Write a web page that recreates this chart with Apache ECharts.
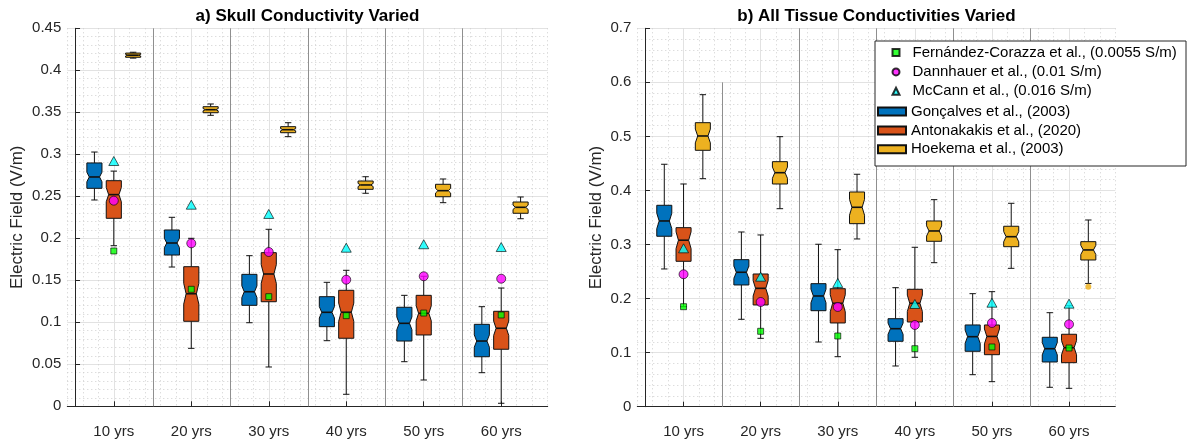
<!DOCTYPE html>
<html><head><meta charset="utf-8">
<script src="https://cdn.jsdelivr.net/npm/echarts@6/dist/echarts.min.js"></script>
<style>html,body{margin:0;padding:0;background:#fff}#c{width:1192px;height:441px}</style>
</head><body><div id="c"></div>
<script>
// ---------------- DATA ----------------
const ages = ['10 yrs', '20 yrs', '30 yrs', '40 yrs', '50 yrs', '60 yrs'];
const titleA = 'a) Skull Conductivity Varied';
const titleB = 'b) All Tissue Conductivities Varied';
const yName = 'Electric Field (V/m)';
const nameFern = 'Fernández-Corazza et al., (0.0055 S/m)';
const nameDann = 'Dannhauer et al., (0.01 S/m)';
const nameMcC = 'McCann et al., (0.016 S/m)';
const nameGon = 'Gonçalves et al., (2003)';
const nameAnt = 'Antonakakis et al., (2020)';
const nameHoe = 'Hoekema et al., (2003)';

// box stats: [lower whisker, q1, median, q3, upper whisker]
const skullGoncalves = [
  [0.2456, 0.2595, 0.2730, 0.2897, 0.3027],
  [0.1658, 0.1801, 0.1944, 0.2099, 0.2250],
  [0.0995, 0.1202, 0.1364, 0.1571, 0.1793],
  [0.0781, 0.0948, 0.1119, 0.1305, 0.1476],
  [0.0531, 0.0777, 0.0988, 0.1179, 0.1321],
  [0.0400, 0.0590, 0.0777, 0.0976, 0.1186]
];
const skullAntonakakis = [
  [0.1912, 0.2238, 0.2520, 0.2686, 0.2800],
  [0.0690, 0.1012, 0.1340, 0.1662, 0.2000],
  [0.0468, 0.1245, 0.1575, 0.1829, 0.2107],
  [0.0143, 0.0810, 0.1120, 0.1381, 0.1619],
  [0.0313, 0.0849, 0.1107, 0.1321, 0.1548],
  [0.0036, 0.0679, 0.0929, 0.1131, 0.1408]
];
const skullHoekema = [
  [0.4145, 0.4155, 0.4180, 0.4205, 0.4215],
  [0.3464, 0.3495, 0.3531, 0.3567, 0.3599],
  [0.3210, 0.3257, 0.3293, 0.3329, 0.3376],
  [0.2536, 0.2583, 0.2635, 0.2682, 0.2733],
  [0.2424, 0.2495, 0.2567, 0.2643, 0.2706],
  [0.2233, 0.2298, 0.2369, 0.2432, 0.2492]
];
const skullFernandez = [0.1849, 0.1393, 0.1305, 0.1079, 0.1110, 0.1087];
const skullDannhauer = [0.2448, 0.1940, 0.1837, 0.1507, 0.1548, 0.1519];
const skullMcCann    = [0.2920, 0.2400, 0.2290, 0.1888, 0.1929, 0.1896];

const allGoncalves = [
  [0.2548, 0.3153, 0.3436, 0.3726, 0.4485],
  [0.1617, 0.2252, 0.2487, 0.2720, 0.3232],
  [0.1197, 0.1776, 0.2048, 0.2276, 0.3005],
  [0.0753, 0.1210, 0.1443, 0.1628, 0.2202],
  [0.0592, 0.1025, 0.1295, 0.1512, 0.2091],
  [0.0359, 0.0827, 0.1073, 0.1284, 0.1739]
];
const allAntonakakis = [
  [0.1850, 0.2690, 0.3080, 0.3312, 0.4120],
  [0.1265, 0.1882, 0.2190, 0.2455, 0.3177],
  [0.0925, 0.1549, 0.1913, 0.2183, 0.2905],
  [0.0914, 0.1567, 0.1913, 0.2172, 0.2949],
  [0.0463, 0.0962, 0.1300, 0.1512, 0.2128],
  [0.0340, 0.0814, 0.1092, 0.1340, 0.1869]
];
const allHoekema = [
  [0.4218, 0.4743, 0.5008, 0.5254, 0.5772],
  [0.3663, 0.4120, 0.4329, 0.4533, 0.4995],
  [0.3103, 0.3386, 0.3689, 0.3972, 0.4300],
  [0.2664, 0.3060, 0.3251, 0.3436, 0.3830],
  [0.2560, 0.2960, 0.3145, 0.3338, 0.3763],
  [0.2280, 0.2714, 0.2900, 0.3053, 0.3454]
];
const allHoekemaOutliers = [[5, 0.222]]; // [age index, value]
const allFernandez = [0.1850, 0.1395, 0.1308, 0.1073, 0.1105, 0.1086];
const allDannhauer = [0.2450, 0.1937, 0.1845, 0.1512, 0.1549, 0.1524];
const allMcCann    = [0.2930, 0.2405, 0.2289, 0.1900, 0.1924, 0.1906];

// separator line tops (between age groups)
const sepTopsA = [0.45, 0.45, 0.45, 0.45, 0.45];
const sepTopsB = [0.6, 0.7, 0.7, 0.7, 0.7];

// ---------------- STYLE / LAYOUT ----------------
const C_BLUE = '#0072BD', C_ORANGE = '#D95319', C_YELLOW = '#EDB120';
const FONT = '"Liberation Sans", Arial, Helvetica, sans-serif';
const TXT = '#262626';
const BOX_W = 0.78;
const GROUP = 4;             // x units per age group
const XMIN = -0.4, XMAX = 24.4;

const groupCenter = i => 2 + GROUP * i;
const tickVals = ages.map((a, i) => groupCenter(i));

function boxData(stats, offset) {
  return stats.map((s, i) => [groupCenter(i) + offset].concat(s));
}
function markData(vals) {
  return vals.map((v, i) => [groupCenter(i), v]);
}
function sepData(tops) {
  return tops.map((t, i) => [groupCenter(i) + GROUP / 2, t]);
}

function makeBoxRender(notchK) {
  return function (params, api) {
    const x = api.value(0);
    const lo = api.value(1), q1 = api.value(2), med = api.value(3), q3 = api.value(4), hi = api.value(5);
    const cx = api.coord([x, med])[0];
    const yLo = api.coord([x, lo])[1], yQ1 = api.coord([x, q1])[1], yM = api.coord([x, med])[1];
    const yQ3 = api.coord([x, q3])[1], yHi = api.coord([x, hi])[1];
    const iqr = q3 - q1;
    const yNt = api.coord([x, Math.min(med + notchK * iqr, q3)])[1];
    const yNb = api.coord([x, Math.max(med - notchK * iqr, q1)])[1];
    const w = api.size([BOX_W, 0])[0];
    const L = cx - w / 2, R = cx + w / 2, ind = w * 0.16;
    const cap = 3.2;
    const ls = { stroke: '#111', lineWidth: 1 };
    return {
      type: 'group',
      children: [
        { type: 'line', shape: { x1: cx, y1: yQ3, x2: cx, y2: yHi }, style: ls },
        { type: 'line', shape: { x1: cx - cap, y1: yHi, x2: cx + cap, y2: yHi }, style: ls },
        { type: 'line', shape: { x1: cx, y1: yQ1, x2: cx, y2: yLo }, style: ls },
        { type: 'line', shape: { x1: cx - cap, y1: yLo, x2: cx + cap, y2: yLo }, style: ls },
        { type: 'polygon', shape: { points: [[L, yQ3], [R, yQ3], [R, yNt], [R - ind, yM], [R, yNb], [R, yQ1], [L, yQ1], [L, yNb], [L + ind, yM], [L, yNt]] },
          style: { fill: api.visual('color'), stroke: '#111', lineWidth: 1, lineJoin: 'round' } },
        { type: 'line', shape: { x1: L + ind, y1: yM, x2: R - ind, y2: yM }, style: { stroke: '#111', lineWidth: 1.6 } }
      ]
    };
  };
}
function sepRender(params, api) {
  const p0 = api.coord([api.value(0), 0]);
  const p1 = api.coord([api.value(0), api.value(1)]);
  const x = Math.round(p0[0]) + 0.5;
  return { type: 'line', shape: { x1: x, y1: p0[1], x2: x, y2: p1[1] }, style: { stroke: '#8f8f8f', lineWidth: 1 } };
}

function xAxesFor(gi) {
  return [
    { gridIndex: gi, type: 'value', position: 'bottom', min: XMIN, max: XMAX, interval: 0.8,
      axisLine: { show: false }, axisTick: { show: false }, axisLabel: { show: false },
      splitLine: { show: true, lineStyle: { color: '#cfcfcf', type: [1, 3], width: 1 } } },
    { gridIndex: gi, type: 'value', position: 'bottom', min: XMIN, max: XMAX,
      axisLine: { show: true, lineStyle: { color: TXT, width: 1 } },
      axisTick: { show: true, inside: true, length: 5, customValues: tickVals, lineStyle: { color: TXT } },
      axisLabel: { show: true, customValues: tickVals, margin: 18, fontSize: 15, color: TXT, fontFamily: FONT,
        formatter: v => ages[Math.round((v - 2) / GROUP)] },
      splitLine: { show: true, lineStyle: { color: '#e2e2e2', width: 1 } } }
  ];
}
function yAxisFor(gi, max, interval, gap) {
  return { gridIndex: gi, type: 'value', position: 'left', min: 0, max: max, interval: interval,
    name: yName, nameLocation: 'middle', nameGap: gap,
    nameTextStyle: { fontSize: 17, color: TXT, fontFamily: FONT },
    axisLine: { show: true, lineStyle: { color: TXT, width: 1 } },
    axisTick: { show: true, inside: true, length: 5, lineStyle: { color: TXT } },
    axisLabel: { fontSize: 15, color: TXT, fontFamily: FONT, margin: 6 },
    splitLine: { show: true, lineStyle: { color: '#e2e2e2', width: 1 } },
    minorTick: { show: false, splitNumber: 5 },
    minorSplitLine: { show: true, lineStyle: { color: '#cfcfcf', type: [1, 3], width: 1 } } };
}

function panelSeries(xi, yi, gon, ant, hoe, fern, dann, mcc, seps, notchK) {
  const s = [];
  s.push({ type: 'custom', name: 'sep' + xi, xAxisIndex: xi, yAxisIndex: yi, renderItem: sepRender,
    data: sepData(seps), encode: { x: 0, y: 1 }, z: 1, silent: true });
  [[nameGon, gon, -1, C_BLUE], [nameAnt, ant, 0, C_ORANGE], [nameHoe, hoe, 1, C_YELLOW]].forEach(([n, d, off, col]) => {
    s.push({ type: 'custom', name: n, xAxisIndex: xi, yAxisIndex: yi, renderItem: makeBoxRender(notchK),
      itemStyle: { color: col, borderColor: '#111', borderWidth: 1 },
      data: boxData(d, off), encode: { x: 0, y: [1, 2, 3, 4, 5] }, z: 3 });
  });
  s.push({ type: 'scatter', name: nameFern, xAxisIndex: xi, yAxisIndex: yi, symbol: 'rect', symbolSize: 6,
    itemStyle: { color: '#00ff00', borderColor: '#000', borderWidth: 0.8 }, data: markData(fern), z: 5 });
  s.push({ type: 'scatter', name: nameDann, xAxisIndex: xi, yAxisIndex: yi, symbol: 'circle', symbolSize: 9,
    itemStyle: { color: '#ff00ff', borderColor: '#000', borderWidth: 0.8 }, data: markData(dann), z: 5 });
  s.push({ type: 'scatter', name: nameMcC, xAxisIndex: xi, yAxisIndex: yi, symbol: 'triangle', symbolSize: [10, 9],
    itemStyle: { color: '#00ffff', borderColor: '#000', borderWidth: 0.8 }, data: markData(mcc), z: 5 });
  return s;
}

const series = []
  .concat(panelSeries(1, 0, skullGoncalves, skullAntonakakis, skullHoekema, skullFernandez, skullDannhauer, skullMcCann, sepTopsA, 0.19))
  .concat(panelSeries(3, 1, allGoncalves, allAntonakakis, allHoekema, allFernandez, allDannhauer, allMcCann, sepTopsB, 0.25));
series.push({ type: 'scatter', name: 'outliers', xAxisIndex: 3, yAxisIndex: 1, symbol: 'circle', symbolSize: 6,
  itemStyle: { color: C_YELLOW, opacity: 0.85 }, z: 4,
  data: allHoekemaOutliers.map(([i, v]) => [groupCenter(i) + 1, v]) });

const legendText = { fontSize: 15, color: '#000', fontFamily: FONT, lineHeight: 15 };
const option = {
  animation: false,
  backgroundColor: '#fff',
  textStyle: { fontFamily: FONT },
  title: [
    { text: titleA, left: 307.5, top: 8, textAlign: 'center', padding: 0,
      textStyle: { fontSize: 17, fontWeight: 'bold', color: '#000', fontFamily: FONT } },
    { text: titleB, left: 876.5, top: 8, textAlign: 'center', padding: 0,
      textStyle: { fontSize: 17, fontWeight: 'bold', color: '#000', fontFamily: FONT } }
  ],
  grid: [
    { left: 67.3, top: 28.3, width: 480.4, height: 378 },
    { left: 637.3, top: 28.3, width: 478, height: 378.4 }
  ],
  xAxis: xAxesFor(0).concat(xAxesFor(1)),
  yAxis: [yAxisFor(0, 0.45, 0.05, 41), yAxisFor(1, 0.7, 0.1, 32)],
  legend: [
    { orient: 'vertical', left: 891.5, top: 45, padding: 0, itemWidth: 7, itemHeight: 7, itemGap: 4.4,
      selectedMode: false, textStyle: Object.assign({ padding: [0, 0, 0, 8] }, legendText), z: 12,
      data: [nameFern, nameDann, nameMcC] },
    { orient: 'vertical', left: 877, top: 104, padding: 0, itemWidth: 28, itemHeight: 8, itemGap: 3.9,
      selectedMode: false, textStyle: legendText, z: 12, icon: 'rect', data: [nameGon, nameAnt, nameHoe] }
  ],
  graphic: { elements: [
    { type: 'rect', left: 874.5, top: 40.5, z: 10, shape: { width: 311, height: 125 },
      style: { fill: '#fff', stroke: '#262626', lineWidth: 1 } }
  ] },
  series: series
};
const chart = echarts.init(document.getElementById('c'), null, { renderer: 'canvas' });
chart.setOption(option);
</script></body></html>
